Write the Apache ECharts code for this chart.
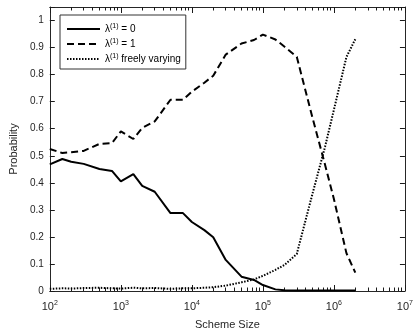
<!DOCTYPE html>
<html>
<head>
<meta charset="utf-8">
<script src="https://cdn.jsdelivr.net/npm/echarts@6/dist/echarts.min.js"></script>
<style>
  html, body { margin: 0; padding: 0; background: #fff; }
  #chart { width: 416px; height: 335px; }
</style>
</head>
<body>
<div id="chart"></div>
<script>
// scheme sizes (x, log axis)
const schemeSizes = [100, 150, 200, 300, 500, 750, 1000, 1500, 2000, 3000, 5000, 7500,
  10000, 15000, 20000, 30000, 50000, 75000, 100000, 150000, 200000, 300000,
  500000, 750000, 1000000, 1500000, 2000000];

// probability, lambda(1) = 0
const probZero = [0.468, 0.488, 0.478, 0.470, 0.451, 0.444, 0.405, 0.432, 0.389, 0.367, 0.288, 0.288,
  0.255, 0.225, 0.199, 0.115, 0.053, 0.041, 0.022, 0.006, 0.003, 0.002,
  0.002, 0.002, 0.002, 0.002, 0.002];

// probability, lambda(1) = 1
const probOne = [0.525, 0.510, 0.513, 0.518, 0.544, 0.547, 0.590, 0.562, 0.603, 0.627, 0.707, 0.707,
  0.737, 0.770, 0.796, 0.874, 0.915, 0.928, 0.948, 0.930, 0.904, 0.866,
  0.640, 0.467, 0.340, 0.140, 0.068];

// probability, lambda(1) freely varying
const probFree = [0.008, 0.010, 0.009, 0.011, 0.012, 0.010, 0.009, 0.012, 0.010, 0.011, 0.008, 0.010,
  0.010, 0.012, 0.014, 0.020, 0.032, 0.043, 0.056, 0.078, 0.096, 0.137,
  0.360, 0.533, 0.670, 0.865, 0.931];

const seriesNames = ['λ(1) = 0', 'λ(1) = 1', 'λ(1) freely varying'];

// minor ticks on the log axis: 2..9 x 10^k
const minorTicks = [];
for (let k = 2; k < 7; k++) {
  for (let m = 2; m <= 9; m++) minorTicks.push(m * Math.pow(10, k));
}

const axisColor = '#262626';
const font = "'Liberation Sans', Arial, sans-serif";

const chart = echarts.init(document.getElementById('chart'));

const pairs = (ys) => schemeSizes.map((x, i) => [x, ys[i]]);

const baseLog = {
  type: 'log',
  logBase: 10,
  min: 100,
  max: 10000000,
  gridIndex: 0,
  splitLine: { show: false },
  minorSplitLine: { show: false },
};

const tickStyle = { color: '#1a1a1a', width: 1 };

chart.setOption({
  animation: false,
  textStyle: { fontFamily: font },
  grid: { left: 49, right: 5, top: 7, bottom: 44 },
  legend: {
    data: seriesNames,
    orient: 'vertical',
    left: 60,
    top: 15,
    padding: [8, 5, 5, 6],
    itemGap: 4,
    itemWidth: 33,
    itemHeight: 12,
    borderColor: '#333',
    borderWidth: 1,
    backgroundColor: '#fff',
    itemStyle: { opacity: 0 },
    textStyle: {
      fontFamily: font,
      fontSize: 10,
      color: '#000',
      rich: {
        t: { fontSize: 10, color: '#000', fontFamily: font },
        s: { fontSize: 7, color: '#000', fontFamily: font, padding: [0, 0, 5, 0] },
      },
    },
    formatter: (name) => {
      const parts = name.split('(1)');
      return '{t|' + parts[0] + '}{s|(1)}{t|' + parts[1] + '}';
    },
  },
  xAxis: [
    Object.assign({}, baseLog, {
      position: 'bottom',
      name: 'Scheme Size',
      nameLocation: 'middle',
      nameGap: 28,
      nameTextStyle: { fontSize: 11, color: axisColor, fontFamily: font },
      axisLine: { show: true, lineStyle: { color: axisColor, width: 1 } },
      axisTick: { show: true, inside: true, length: 6, lineStyle: tickStyle },
      axisLabel: {
        margin: 9,
        color: axisColor,
        formatter: (v) => '{b|10}{e|' + Math.round(Math.log10(v)) + '}',
        rich: {
          b: { fontSize: 11, color: axisColor, fontFamily: font },
          e: { fontSize: 7, color: axisColor, fontFamily: font, padding: [0, 0, 6, 0] },
        },
      },
    }),
    Object.assign({}, baseLog, {
      position: 'bottom',
      axisLine: { show: false },
      axisTick: { show: true, inside: true, length: 3.5, customValues: minorTicks, lineStyle: tickStyle },
      axisLabel: { show: false },
    }),
    Object.assign({}, baseLog, {
      position: 'top',
      axisLine: { show: true, lineStyle: { color: axisColor, width: 1 } },
      axisTick: { show: true, inside: true, length: 6, lineStyle: tickStyle },
      axisLabel: { show: false },
    }),
    Object.assign({}, baseLog, {
      position: 'top',
      axisLine: { show: false },
      axisTick: { show: true, inside: true, length: 3.5, customValues: minorTicks, lineStyle: tickStyle },
      axisLabel: { show: false },
    }),
  ],
  yAxis: [
    {
      type: 'value',
      position: 'left',
      min: 0,
      max: 1.05,
      interval: 0.1,
      name: 'Probability',
      nameLocation: 'middle',
      nameGap: 24,
      nameTextStyle: { fontSize: 11, color: axisColor, fontFamily: font },
      splitLine: { show: false },
      axisLine: { show: true, lineStyle: { color: axisColor, width: 1 } },
      axisTick: { show: true, inside: true, length: 5, lineStyle: tickStyle },
      axisLabel: {
        fontSize: 10,
        color: axisColor,
        margin: 6,
        formatter: (v) => (v > 1.001 ? '' : String(+v.toFixed(1))),
      },
    },
    {
      type: 'value',
      position: 'right',
      min: 0,
      max: 1.05,
      interval: 0.1,
      splitLine: { show: false },
      axisLine: { show: true, lineStyle: { color: axisColor, width: 1 } },
      axisTick: { show: true, inside: true, length: 5, lineStyle: tickStyle },
      axisLabel: { show: false },
    },
  ],
  series: [
    {
      name: seriesNames[0],
      type: 'line',
      data: pairs(probZero),
      symbol: 'none',
      lineStyle: { color: '#000', width: 2 },
      itemStyle: { color: '#000' },
    },
    {
      name: seriesNames[1],
      type: 'line',
      data: pairs(probOne),
      symbol: 'none',
      lineStyle: { color: '#000', width: 2, type: [7, 4] },
      itemStyle: { color: '#000' },
    },
    {
      name: seriesNames[2],
      type: 'line',
      data: pairs(probFree),
      symbol: 'none',
      lineStyle: { color: '#000', width: 2, type: [1.5, 1.5] },
      itemStyle: { color: '#000' },
    },
  ],
});
</script>
</body>
</html>
